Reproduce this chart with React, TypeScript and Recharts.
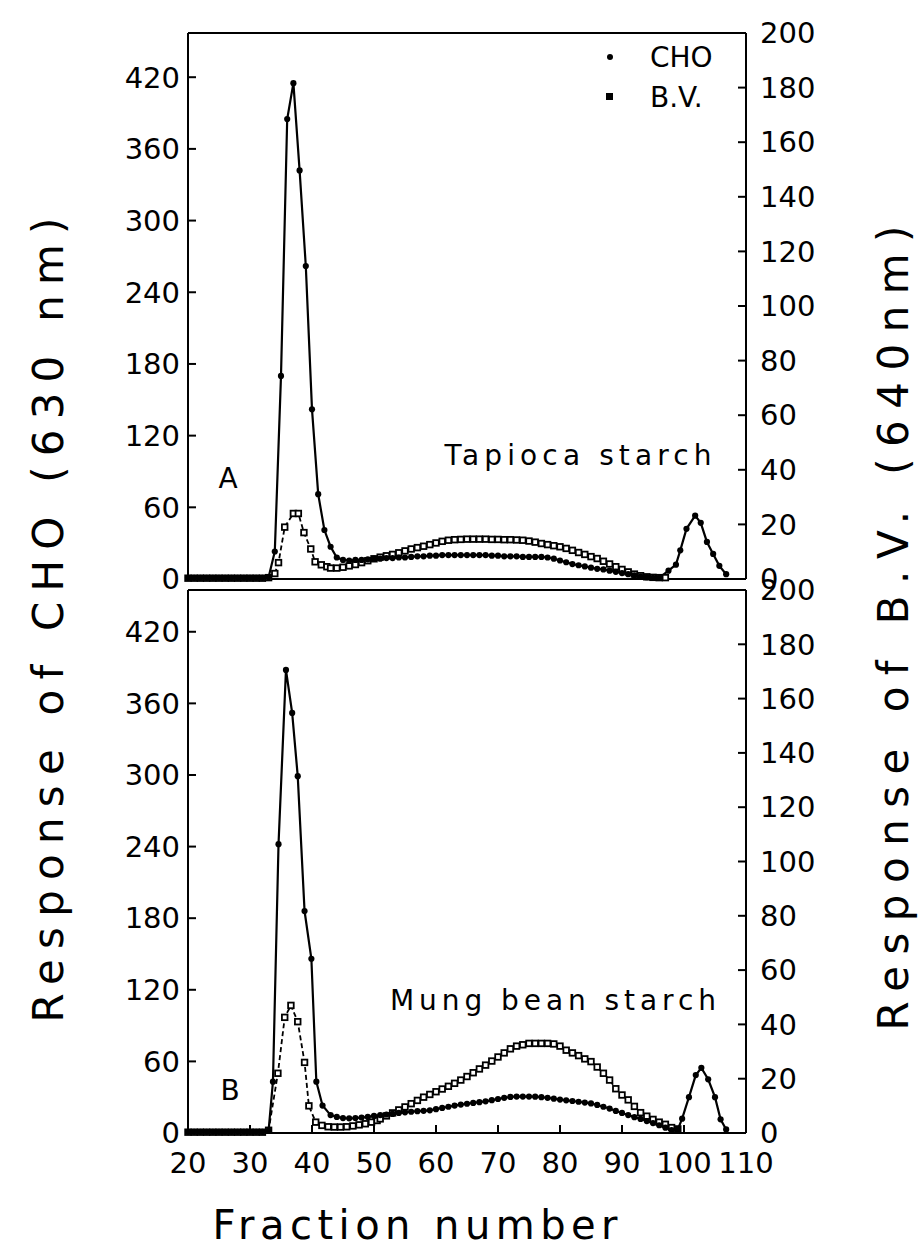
import { Line, LineChart, XAxis, YAxis } from "recharts"

// fraction number -> response
const choTapioca: [number, number][] = [
  [20, 1], [21, 1], [22, 1], [23, 1], [24, 1], [25, 1], [26, 1], [27, 1], [28, 1], [29, 1],
  [30, 1], [31, 1], [32, 1], [33, 1.5], [34, 23], [35, 170], [36, 385], [37, 415], [38, 342],
  [39, 262], [40, 142], [41, 71], [42, 41], [43, 27], [44, 18], [45, 16], [46, 15.5], [47, 16],
  [48, 16], [49, 16.5], [50, 17], [51, 17], [52, 17.5], [53, 17.5], [54, 18], [55, 18],
  [56, 18.5], [57, 19], [58, 19], [59, 19.5], [60, 19.5], [61, 20], [62, 20], [63, 20],
  [64, 20], [65, 20], [66, 20], [67, 20], [68, 20], [69, 19.5], [70, 19.5], [71, 19], [72, 19],
  [73, 19], [74, 18.5], [75, 18.5], [76, 18.5], [77, 18.5], [78, 18], [79, 17], [80, 15.5],
  [81, 14], [82, 12.5], [83, 11.5], [84, 10.5], [85, 9.5], [86, 8.5], [87, 8], [88, 7], [89, 6],
  [90, 5], [91, 4], [92, 3], [93, 2], [94, 1.5], [95, 1], [96, 1], [97.5, 7], [98.7, 12],
  [99.4, 24], [100.4, 42], [101.8, 53], [102.7, 47], [103.7, 31], [104.7, 21], [105.7, 11],
  [106.8, 4],
]

const bvTapioca: [number, number][] = [
  [20, 0.3], [21, 0.3], [22, 0.3], [23, 0.3], [24, 0.3], [25, 0.3], [26, 0.3], [27, 0.3],
  [28, 0.3], [29, 0.3], [30, 0.3], [31, 0.3], [32, 0.3], [33, 0.5], [34, 2], [34.6, 6],
  [35.6, 19], [37, 24], [37.8, 24], [38.7, 17], [39.8, 11], [40.5, 6.3], [41.5, 5.2],
  [42.4, 4.5], [43, 4], [44, 4], [45, 4.3], [46, 4.8], [47, 5.3], [48, 6], [49, 6.7], [50, 7.4],
  [51, 8], [52, 8.5], [53, 9], [54, 9.6], [55, 10.3], [56, 11], [57, 11.5], [58, 12], [59, 12.6],
  [60, 13.2], [61, 13.8], [62, 14.2], [63, 14.4], [64, 14.5], [65, 14.6], [66, 14.6], [67, 14.6],
  [68, 14.6], [69, 14.5], [70, 14.5], [71, 14.4], [72, 14.4], [73, 14.3], [74, 14.2], [75, 13.9],
  [76, 13.5], [77, 13], [78, 12.6], [79, 12.2], [80, 11.8], [81, 11.2], [82, 10.5], [83, 9.7],
  [84, 9], [85, 8.2], [86, 7.5], [87, 6.5], [88, 5.5], [89, 4.5], [90, 3.5], [91, 2.6], [92, 1.8],
  [93, 1.2], [94, 0.8], [95, 0.6], [96, 0.5], [97, 0.5],
]

const choMungBean: [number, number][] = [
  [20, 1], [21, 1], [22, 1], [23, 1], [24, 1], [25, 1], [26, 1], [27, 1], [28, 1], [29, 1],
  [30, 1], [31, 1], [32, 1], [33, 2], [33.7, 43], [34.6, 242], [35.8, 388], [36.8, 352],
  [37.7, 299], [38.8, 186], [39.9, 146], [40.7, 43], [41.7, 23], [43, 15], [44, 13.5],
  [45, 12.5], [46, 12.3], [47, 12.5], [48, 13], [49, 13.5], [50, 14.3], [51, 15], [52, 15.5],
  [53, 16], [54, 16.8], [55, 17.3], [56, 17.8], [57, 18.3], [58, 18.6], [59, 19], [60, 20],
  [61, 21], [62, 22], [63, 23], [64, 23.8], [65, 24.5], [66, 25.2], [67, 25.8], [68, 26.5],
  [69, 27.5], [70, 28.5], [71, 29.5], [72, 30.2], [73, 30.5], [74, 30.5], [75, 30.5], [76, 30.4],
  [77, 30], [78, 29.5], [79, 28.8], [80, 28], [81, 27.4], [82, 26.8], [83, 26.2], [84, 25.5],
  [85, 24.8], [86, 23.5], [87, 22], [88, 20.5], [89, 18.5], [90, 16.8], [91, 15], [92, 13.3],
  [93, 11.8], [94, 10], [95, 8.3], [96, 6.5], [97, 4.5], [98, 2.5], [99, 3], [99.7, 12],
  [100.8, 30], [101.9, 48.5], [102.8, 54.6], [103.9, 45], [105, 30], [105.9, 11.5], [106.8, 3],
]

const bvMungBean: [number, number][] = [
  [20, 0.3], [21, 0.3], [22, 0.3], [23, 0.3], [24, 0.3], [25, 0.3], [26, 0.3], [27, 0.3],
  [28, 0.3], [29, 0.3], [30, 0.3], [31, 0.3], [32, 0.3], [33, 1], [34.5, 22], [35.6, 42.6],
  [36.6, 47], [37.7, 41], [38.8, 26], [39.5, 10], [40.6, 4], [41.6, 2.8], [42.6, 2.3],
  [43.6, 2.2], [44.6, 2.2], [45.6, 2.3], [46.6, 2.6], [47.6, 3], [48.6, 3.4], [49.6, 4],
  [50.5, 4.6], [51, 5.2], [52, 6.3], [53, 7.4], [54, 8.5], [55, 9.6], [56, 10.8], [57, 12],
  [58, 13.2], [59, 14.2], [60, 15.2], [61, 16.2], [62, 17.2], [63, 18.3], [64, 19.5], [65, 20.8],
  [66, 22.2], [67, 23.6], [68, 25], [69, 26.5], [70, 28], [71, 29.5], [72, 31], [73, 32],
  [74, 32.5], [75, 33], [76, 33], [77, 33], [78, 33], [79, 32.8], [80, 32], [81, 30.5],
  [82, 29.5], [83, 28.5], [84, 27.3], [85, 26.3], [86, 24.3], [87, 22], [88, 19.5], [89, 16.3],
  [90, 14], [91, 12.2], [92, 9.8], [93, 7.5], [94, 6.2], [95, 5], [96, 4], [97, 3.2], [98, 2],
  [99, 1.5],
]

const fractionTicks = [20, 30, 40, 50, 60, 70, 80, 90, 100, 110]
const choTicks = [0, 60, 120, 180, 240, 300, 360, 420]
const bvTicks = [0, 20, 40, 60, 80, 100, 120, 140, 160, 180, 200]

const FONT = "DejaVu Sans"
const tickText = { fill: "#000", fontSize: 29, fontFamily: FONT }

const toPoints = (rows: [number, number][]) => rows.map(([f, v]) => ({ f, v }))

const choDot = (p: any) => (
  <circle key={`c-${p.index}`} cx={p.cx} cy={p.cy} r={3.1} fill="#000" />
)

const bvDot = (p: any) => (
  <rect
    key={`b-${p.index}`}
    x={p.cx - 2.8}
    y={p.cy - 2.8}
    width={5.6}
    height={5.6}
    fill="#fff"
    stroke="#000"
    strokeWidth={1.8}
  />
)

type PanelProps = {
  cho: [number, number][]
  bv: [number, number][]
  top: number
  height: number
  marginTop: number
  marginBottom: number
  leftMax: number
  showLabels: boolean
}

function Panel({ cho, bv, top, height, marginTop, marginBottom, leftMax, showLabels }: PanelProps) {
  const axis = { stroke: "#000", strokeWidth: 2 }
  return (
    <div style={{ position: "absolute", left: 0, top }}>
      <LineChart
        width={923}
        height={height}
        margin={{ top: marginTop, right: 97, bottom: marginBottom, left: 108 }}
      >
        <XAxis
          xAxisId="b"
          dataKey="f"
          type="number"
          domain={[20, 110]}
          ticks={fractionTicks}
          interval={0}
          height={showLabels ? 50 : 21}
          axisLine={axis}
          tickLine={axis}
          tickSize={-8}
          tickMargin={27}
          tick={showLabels ? tickText : false}
        />
        <XAxis
          xAxisId="t"
          orientation="top"
          dataKey="f"
          type="number"
          domain={[20, 110]}
          ticks={fractionTicks}
          interval={0}
          height={1}
          axisLine={axis}
          tickLine={axis}
          tickSize={-8}
          tick={false}
        />
        <YAxis
          yAxisId="l"
          domain={[0, leftMax]}
          ticks={choTicks}
          interval={0}
          width={80}
          axisLine={axis}
          tickLine={axis}
          tickSize={-8}
          tickMargin={16}
          tick={tickText}
        />
        <YAxis
          yAxisId="r"
          orientation="right"
          domain={[0, 200]}
          ticks={bvTicks}
          interval={0}
          width={80}
          axisLine={axis}
          tickLine={axis}
          tickSize={-8}
          tickMargin={22}
          tick={tickText}
        />
        <Line
          xAxisId="b"
          yAxisId="r"
          data={toPoints(bv)}
          dataKey="v"
          type="linear"
          stroke="#000"
          strokeWidth={1.8}
          strokeDasharray="5 3"
          dot={bvDot}
          isAnimationActive={false}
        />
        <Line
          xAxisId="b"
          yAxisId="l"
          data={toPoints(cho)}
          dataKey="v"
          type="linear"
          stroke="#000"
          strokeWidth={2.2}
          dot={choDot}
          isAnimationActive={false}
        />
      </LineChart>
    </div>
  )
}

export default function App() {
  return (
    <div
      style={{
        position: "absolute",
        left: 0,
        top: 0,
        width: 923,
        height: 1257,
        background: "#fff",
        fontFamily: FONT,
      }}
    >
      <Panel
        cho={choTapioca}
        bv={bvTapioca}
        top={0}
        height={600}
        marginTop={32}
        marginBottom={0}
        leftMax={457}
        showLabels={false}
      />
      <Panel
        cho={choMungBean}
        bv={bvMungBean}
        top={560}
        height={640}
        marginTop={29}
        marginBottom={17}
        leftMax={455}
        showLabels={true}
      />
      <svg
        width={923}
        height={1257}
        style={{ position: "absolute", left: 0, top: 0, pointerEvents: "none" }}
        fontFamily={FONT}
        fill="#000"
      >
        <text
          transform="translate(48,620) rotate(-90)"
          textAnchor="middle"
          dominantBaseline="central"
          fontSize={42}
          textLength={805}
          lengthAdjust="spacing"
        >
          Response of CHO (630 nm)
        </text>
        <text
          transform="translate(893,628) rotate(-90)"
          textAnchor="middle"
          dominantBaseline="central"
          fontSize={42}
          textLength={805}
          lengthAdjust="spacing"
        >
          Response of B.V. (640nm)
        </text>
        <text
          x={415}
          y={1225}
          textAnchor="middle"
          dominantBaseline="central"
          fontSize={40}
          textLength={405}
          lengthAdjust="spacing"
        >
          Fraction number
        </text>
        <text x={578} y={455} textAnchor="middle" dominantBaseline="central" fontSize={28} textLength={267} lengthAdjust="spacing">
          Tapioca starch
        </text>
        <text x={553} y={1000} textAnchor="middle" dominantBaseline="central" fontSize={28} textLength={326} lengthAdjust="spacing">
          Mung bean starch
        </text>
        <text x={228} y={478} textAnchor="middle" dominantBaseline="central" fontSize={28}>
          A
        </text>
        <text x={230} y={1090} textAnchor="middle" dominantBaseline="central" fontSize={28}>
          B
        </text>
        <circle cx={610} cy={57} r={3} />
        <text x={650} y={57} dominantBaseline="central" fontSize={28}>
          CHO
        </text>
        <rect x={606} y={93} width={7} height={7} />
        <text x={650} y={97} dominantBaseline="central" fontSize={28}>
          B.V.
        </text>
      </svg>
    </div>
  )
}
